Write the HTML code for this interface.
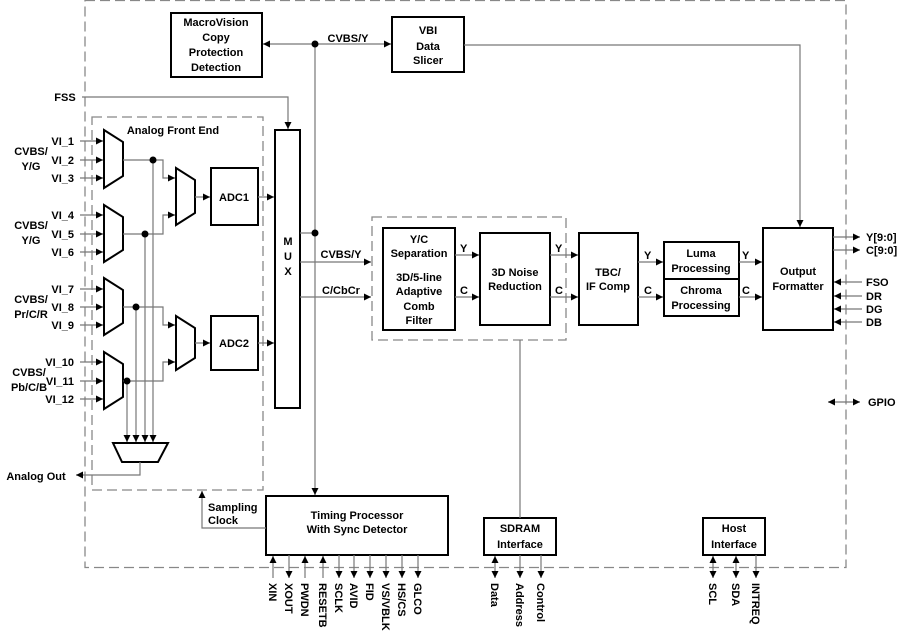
<!DOCTYPE html>
<html><head><meta charset="utf-8"><style>
html,body{margin:0;padding:0;background:#fff;}
svg{display:block;font-family:"Liberation Sans",Arial,sans-serif;font-weight:bold;}
</style></head><body>
<svg width="900" height="633" viewBox="0 0 900 633" xmlns="http://www.w3.org/2000/svg">
<defs>
<marker id="a" viewBox="0 0 10 10" refX="10" refY="5" markerWidth="7" markerHeight="7" orient="auto-start-reverse" markerUnits="userSpaceOnUse"><path d="M0,0L10,5L0,10z" fill="#000"/></marker>
</defs>
<g fill="none" stroke="#888" stroke-width="1.3" stroke-dasharray="10,5">
<rect x="85" y="0.5" width="761" height="567"/>
<rect x="92" y="117" width="171" height="373"/>
<rect x="372" y="217" width="194" height="123"/>
</g>
<g fill="#fff" stroke="#000" stroke-width="2">
<rect x="171" y="13" width="91" height="64"/>
<rect x="392" y="17" width="72" height="55"/>
<rect x="275" y="130" width="25" height="278"/>
<rect x="211" y="168" width="47" height="57"/>
<rect x="211" y="316" width="47" height="54"/>
<rect x="383" y="228" width="72" height="102"/>
<rect x="480" y="233" width="70" height="92"/>
<rect x="579" y="233" width="59" height="92"/>
<rect x="664" y="242" width="75" height="37"/>
<rect x="664" y="279" width="75" height="37"/>
<rect x="763" y="228" width="70" height="102"/>
<rect x="266" y="496" width="182" height="59"/>
<rect x="484" y="518" width="72" height="37"/>
<rect x="703" y="518" width="62" height="37"/>
<path d="M104,130L123,142L123,176L104,188Z"/>
<path d="M104,205L123,217L123,250L104,262Z"/>
<path d="M104,278L123,290L123,323L104,335Z"/>
<path d="M104,352L123,364L123,397L104,409Z"/>
<path d="M176,168L195,180L195,213L176,225Z"/>
<path d="M176,316L195,328L195,358L176,370Z"/>
<path d="M113,443L168,443L158,462L122,462Z"/>
</g>
<g fill="none" stroke="#777" stroke-width="1.2">
<path d="M315,44L263,44" marker-end="url(#a)"/>
<path d="M315,44L391,44" marker-end="url(#a)"/>
<path d="M464,45L800,45L800,227" marker-end="url(#a)"/>
<path d="M82,97L288,97L288,129" marker-end="url(#a)"/>
<path d="M315,44L315,495" marker-end="url(#a)"/>
<path d="M300,233L315,233"/>
<path d="M300,262L371,262" marker-end="url(#a)"/>
<path d="M300,297L371,297" marker-end="url(#a)"/>
<path d="M455,255L479,255" marker-end="url(#a)"/><path d="M455,297L479,297" marker-end="url(#a)"/>
<path d="M550,255L578,255" marker-end="url(#a)"/><path d="M550,297L578,297" marker-end="url(#a)"/>
<path d="M638,262L663,262" marker-end="url(#a)"/><path d="M638,297L663,297" marker-end="url(#a)"/>
<path d="M739,262L762,262" marker-end="url(#a)"/><path d="M739,297L762,297" marker-end="url(#a)"/>
<path d="M833,237L860,237" marker-end="url(#a)"/><path d="M833,250L860,250" marker-end="url(#a)"/>
<path d="M862,282L834,282" marker-end="url(#a)"/><path d="M862,296L834,296" marker-end="url(#a)"/>
<path d="M862,309L834,309" marker-end="url(#a)"/><path d="M862,322L834,322" marker-end="url(#a)"/>
<path d="M828,402L860,402" marker-end="url(#a)" marker-start="url(#a)"/>
<path d="M520,340L520,518"/>
<path d="M266,528L202,528L202,491" marker-end="url(#a)"/>
<path d="M258,197L274,197" marker-end="url(#a)"/><path d="M258,343L274,343" marker-end="url(#a)"/>
<path d="M195,197L210,197" marker-end="url(#a)"/><path d="M195,343L210,343" marker-end="url(#a)"/>
<path d="M123,160L163,160L163,178L175,178" marker-end="url(#a)"/>
<path d="M123,234L163,234L163,215L175,215" marker-end="url(#a)"/>
<path d="M123,307L163,307L163,325L175,325" marker-end="url(#a)"/>
<path d="M123,381L163,381L163,362L175,362" marker-end="url(#a)"/>
<path d="M153,160L153,442" marker-end="url(#a)"/>
<path d="M145,234L145,442" marker-end="url(#a)"/>
<path d="M136,307L136,442" marker-end="url(#a)"/>
<path d="M127,381L127,442" marker-end="url(#a)"/>
<path d="M140,462L140,475L76,475" marker-end="url(#a)"/>
<path d="M80,141L103,141" marker-end="url(#a)"/><path d="M80,160L103,160" marker-end="url(#a)"/><path d="M80,178L103,178" marker-end="url(#a)"/>
<path d="M80,215L103,215" marker-end="url(#a)"/><path d="M80,234L103,234" marker-end="url(#a)"/><path d="M80,252L103,252" marker-end="url(#a)"/>
<path d="M80,289L103,289" marker-end="url(#a)"/><path d="M80,307L103,307" marker-end="url(#a)"/><path d="M80,325L103,325" marker-end="url(#a)"/>
<path d="M80,362L103,362" marker-end="url(#a)"/><path d="M80,381L103,381" marker-end="url(#a)"/><path d="M80,399L103,399" marker-end="url(#a)"/>
<path d="M273,578L273,556" marker-end="url(#a)"/>
<path d="M289,555L289,578" marker-end="url(#a)"/>
<path d="M305,578L305,556" marker-end="url(#a)"/>
<path d="M323,578L323,556" marker-end="url(#a)"/>
<path d="M339,555L339,578" marker-end="url(#a)"/>
<path d="M354,555L354,578" marker-end="url(#a)"/>
<path d="M370,555L370,578" marker-end="url(#a)"/>
<path d="M386,555L386,578" marker-end="url(#a)"/>
<path d="M402,555L402,578" marker-end="url(#a)"/>
<path d="M418,555L418,578" marker-end="url(#a)"/>
<path d="M495,556L495,578" marker-end="url(#a)" marker-start="url(#a)"/>
<path d="M520,555L520,578" marker-end="url(#a)"/>
<path d="M541,555L541,578" marker-end="url(#a)"/>
<path d="M713,556L713,578" marker-end="url(#a)" marker-start="url(#a)"/>
<path d="M736,556L736,578" marker-end="url(#a)" marker-start="url(#a)"/>
<path d="M756,555L756,578" marker-end="url(#a)"/>
</g>
<g fill="#000">
<circle cx="315" cy="44" r="3.5"/><circle cx="315" cy="233" r="3.5"/>
<circle cx="153" cy="160" r="3.5"/><circle cx="145" cy="234" r="3.5"/>
<circle cx="136" cy="307" r="3.5"/><circle cx="127" cy="381" r="3.5"/>
</g>
<g font-size="11" fill="#000" text-anchor="middle">
<text x="216" y="26">MacroVision</text><text x="216" y="41">Copy</text><text x="216" y="56">Protection</text><text x="216" y="71">Detection</text>
<text x="428" y="34">VBI</text><text x="428" y="50">Data</text><text x="428" y="64">Slicer</text>
<text x="348" y="42">CVBS/Y</text>
<text x="65" y="101">FSS</text>
<text x="173" y="134">Analog Front End</text>
<text x="234" y="201">ADC1</text><text x="234" y="347">ADC2</text>
<text x="288" y="245">M</text><text x="288" y="260">U</text><text x="288" y="275">X</text>
<text x="31" y="155">CVBS/</text><text x="31" y="170">Y/G</text>
<text x="31" y="229">CVBS/</text><text x="31" y="244">Y/G</text>
<text x="31" y="303">CVBS/</text><text x="31" y="318">Pr/C/R</text>
<text x="29" y="376">CVBS/</text><text x="29" y="391">Pb/C/B</text>
<text x="36" y="480">Analog Out</text>
<text x="341" y="258">CVBS/Y</text><text x="341" y="294">C/CbCr</text>
<text x="419" y="243">Y/C</text><text x="419" y="257">Separation</text>
<text x="419" y="281">3D/5-line</text><text x="419" y="295">Adaptive</text><text x="419" y="310">Comb</text><text x="419" y="324">Filter</text>
<text x="515" y="276">3D Noise</text><text x="515" y="290">Reduction</text>
<text x="608" y="276">TBC/</text><text x="608" y="290">IF Comp</text>
<text x="701" y="257">Luma</text><text x="701" y="272">Processing</text>
<text x="701" y="294">Chroma</text><text x="701" y="309">Processing</text>
<text x="798" y="275">Output</text><text x="798" y="290">Formatter</text>
<text x="357" y="519">Timing Processor</text><text x="357" y="533">With Sync Detector</text>
<text x="520" y="532">SDRAM</text><text x="520" y="548">Interface</text>
<text x="734" y="532">Host</text><text x="734" y="548">Interface</text>
</g>
<g font-size="11" fill="#000">
<text x="460" y="252">Y</text><text x="460" y="294">C</text>
<text x="555" y="252">Y</text><text x="555" y="294">C</text>
<text x="644" y="259">Y</text><text x="644" y="294">C</text>
<text x="742" y="259">Y</text><text x="742" y="294">C</text>
<text x="866" y="241">Y[9:0]</text><text x="866" y="254">C[9:0]</text>
<text x="866" y="286">FSO</text><text x="866" y="300">DR</text><text x="866" y="313">DG</text><text x="866" y="326">DB</text>
<text x="868" y="406">GPIO</text>
<text x="208" y="511">Sampling</text><text x="208" y="524">Clock</text>
</g>
<g font-size="11" fill="#000" text-anchor="end">
<text x="74" y="145">VI_1</text><text x="74" y="164">VI_2</text><text x="74" y="182">VI_3</text>
<text x="74" y="219">VI_4</text><text x="74" y="238">VI_5</text><text x="74" y="256">VI_6</text>
<text x="74" y="293">VI_7</text><text x="74" y="311">VI_8</text><text x="74" y="329">VI_9</text>
<text x="74" y="366">VI_10</text><text x="74" y="385">VI_11</text><text x="74" y="403">VI_12</text>
</g>
<g font-size="11" fill="#000">
<text transform="translate(269,583) rotate(90)">XIN</text>
<text transform="translate(285,583) rotate(90)">XOUT</text>
<text transform="translate(301,583) rotate(90)">PWDN</text>
<text transform="translate(319,583) rotate(90)">RESETB</text>
<text transform="translate(335,583) rotate(90)">SCLK</text>
<text transform="translate(350,583) rotate(90)">AVID</text>
<text transform="translate(366,583) rotate(90)">FID</text>
<text transform="translate(382,583) rotate(90)">VS/VBLK</text>
<text transform="translate(398,583) rotate(90)">HS/CS</text>
<text transform="translate(414,583) rotate(90)">GLCO</text>
<text transform="translate(491,583) rotate(90)">Data</text>
<text transform="translate(516,583) rotate(90)">Address</text>
<text transform="translate(537,583) rotate(90)">Control</text>
<text transform="translate(709,583) rotate(90)">SCL</text>
<text transform="translate(732,583) rotate(90)">SDA</text>
<text transform="translate(752,583) rotate(90)">INTREQ</text>
</g>
</svg>
</body></html>
